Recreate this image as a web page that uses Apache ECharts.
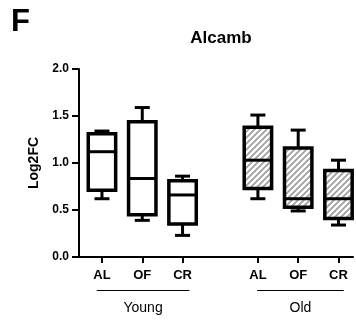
<!DOCTYPE html>
<html>
<head>
<meta charset="utf-8">
<script src="https://cdn.jsdelivr.net/npm/echarts@6/dist/echarts.min.js"></script>
<style>
  html, body { margin: 0; padding: 0; background: #fff; }
  #chart { width: 356px; height: 322px; }
</style>
</head>
<body>
<div id="chart"></div>
<script>
// categories and their positions on the x axis (gap between the two groups)
var categories = ['AL', 'OF', 'CR', 'AL', 'OF', 'CR'];
var xPos = [1, 2, 3, 4.87, 5.87, 6.87];
var yTicks = [0, 0.5, 1, 1.5, 2];

// box values: [min, q1, median, q3, max]
var youngBoxes = [
  [0.62, 0.71, 1.12, 1.31, 1.34],
  [0.39, 0.45, 0.835, 1.44, 1.59],
  [0.23, 0.35, 0.66, 0.81, 0.86]
];
var oldBoxes = [
  [0.62, 0.73, 1.03, 1.38, 1.51],
  [0.49, 0.53, 0.62, 1.16, 1.35],
  [0.34, 0.41, 0.62, 0.92, 1.03]
];

var groupNames = ['Young', 'Old'];
var groupSpans = [[0.87, 3.17], [4.85, 7.0]];

var font = 'Arial, "Liberation Sans", sans-serif';

// hatch pattern for the old group
var hatch = document.createElement('canvas');
hatch.width = 6; hatch.height = 6;
var hctx = hatch.getContext('2d');
hctx.fillStyle = '#ffffff';
hctx.fillRect(0, 0, 6, 6);
hctx.strokeStyle = '#a0a0a0';
hctx.lineWidth = 1.8;
hctx.beginPath();
hctx.moveTo(-1, 7); hctx.lineTo(7, -1);
hctx.moveTo(-4, 4); hctx.lineTo(4, -4);
hctx.moveTo(2, 10); hctx.lineTo(10, 2);
hctx.stroke();

function makeData(offset, boxes) {
  var out = [];
  for (var i = 0; i < boxes.length; i++) {
    out.push([xPos[offset + i]].concat(boxes[i]));
  }
  return out;
}

function makeRender(fill) {
  return function(params, api) {
    var x = api.value(0);
    var lo = api.coord([x, api.value(1)]);
    var q1 = api.coord([x, api.value(2)]);
    var med = api.coord([x, api.value(3)]);
    var q3 = api.coord([x, api.value(4)]);
    var hi = api.coord([x, api.value(5)]);
    var bw = api.size([0.68, 0])[0];
    var cw = 15;
    var cx = lo[0];
    var line = { stroke: '#000', lineWidth: 3 };
    return {
      type: 'group',
      children: [
        { type: 'line', shape: { x1: cx, y1: lo[1], x2: cx, y2: hi[1] }, style: line },
        { type: 'line', shape: { x1: cx - cw / 2, y1: lo[1], x2: cx + cw / 2, y2: lo[1] }, style: line },
        { type: 'line', shape: { x1: cx - cw / 2, y1: hi[1], x2: cx + cw / 2, y2: hi[1] }, style: line },
        { type: 'rect', shape: { x: cx - bw / 2, y: q3[1], width: bw, height: q1[1] - q3[1] },
          style: { fill: fill, stroke: '#000', lineWidth: 3.5 } },
        { type: 'line', shape: { x1: cx - bw / 2, y1: med[1], x2: cx + bw / 2, y2: med[1] }, style: line }
      ]
    };
  };
}

function renderGroup(params, api) {
  var a = api.coord([api.value(0), 0]);
  var b = api.coord([api.value(1), 0]);
  return {
    type: 'group',
    children: [
      { type: 'line', shape: { x1: a[0], y1: a[1] + 33.5, x2: b[0], y2: b[1] + 33.5 },
        style: { stroke: '#000', lineWidth: 1 } },
      { type: 'text', x: (a[0] + b[0]) / 2, y: a[1] + 51,
        style: { text: groupNames[params.dataIndex], font: '14px ' + font, fill: '#000',
                 align: 'center', verticalAlign: 'middle' } }
    ]
  };
}

var chartDom = document.getElementById('chart');
var myChart = echarts.init(chartDom);
var option;

option = {
  animation: false,
  backgroundColor: '#fff',
  grid: { left: 79, right: 3, top: 69, bottom: 65 },
  graphic: [
    { type: 'text', left: 11, top: 7, style: { text: 'F', font: 'bold 31px ' + font, fill: '#000' } },
    { type: 'text', x: 221, y: 38, style: { text: 'Alcamb', font: 'bold 17px ' + font, fill: '#000',
      align: 'center', verticalAlign: 'middle' } }
  ],
  xAxis: {
    type: 'value',
    min: 0.43,
    max: 7.23,
    splitLine: { show: false },
    axisLine: { show: true, lineStyle: { color: '#000', width: 2 } },
    axisTick: { show: true, customValues: xPos, length: 6, lineStyle: { color: '#000', width: 2 } },
    axisLabel: {
      customValues: xPos,
      margin: 12,
      color: '#000',
      fontWeight: 'bold',
      fontSize: 13,
      fontFamily: font,
      formatter: function(v) {
        var i = xPos.indexOf(v);
        return i >= 0 ? categories[i] : '';
      }
    }
  },
  yAxis: {
    type: 'value',
    min: 0,
    max: 2,
    interval: 0.5,
    name: 'Log2FC',
    nameLocation: 'middle',
    nameGap: 37,
    nameTextStyle: { color: '#000', fontWeight: 'bold', fontSize: 14, fontFamily: font },
    splitLine: { show: false },
    axisLine: { show: true, lineStyle: { color: '#000', width: 2 } },
    axisTick: { show: true, length: 7, lineStyle: { color: '#000', width: 2 } },
    axisLabel: {
      margin: 10,
      color: '#000',
      fontWeight: 'bold',
      fontSize: 12,
      fontFamily: font,
      formatter: function(v) { return v.toFixed(1); }
    }
  },
  series: [
    { type: 'custom', name: 'Young', renderItem: makeRender('#ffffff'), data: makeData(0, youngBoxes), encode: { x: 0, y: [1, 2, 3, 4, 5] } },
    { type: 'custom', name: 'Old', renderItem: makeRender({ image: hatch, repeat: 'repeat' }), data: makeData(3, oldBoxes), encode: { x: 0, y: [1, 2, 3, 4, 5] } },
    { type: 'custom', name: 'groups', renderItem: renderGroup, data: groupSpans, encode: { x: [0, 1] }, clip: false }
  ]
};

if (option && typeof option === 'object') {
  myChart.setOption(option);
}
</script>
</body>
</html>
